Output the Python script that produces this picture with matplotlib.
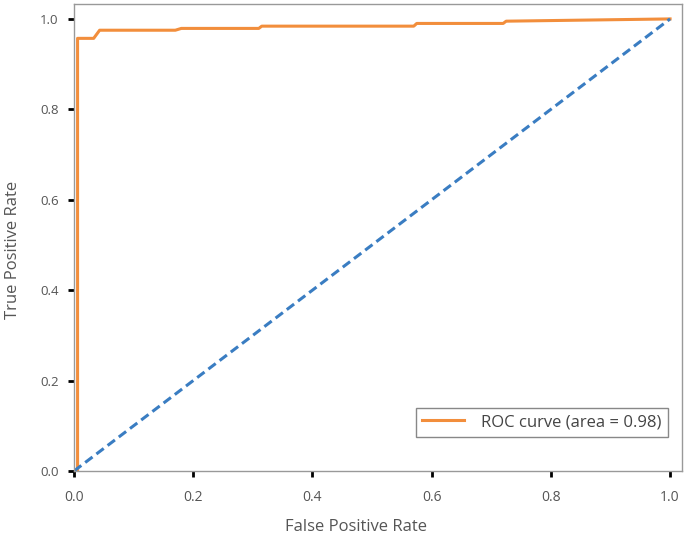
import matplotlib.pyplot as plt

plt.rcParams['font.family'] = ['Open Sans', 'DejaVu Sans']

# ROC curve points
fpr = [0.0, 0.006, 0.006, 0.033, 0.043, 0.17, 0.18, 0.31, 0.315, 0.57, 0.575, 0.72, 0.725, 1.0]
tpr = [0.0, 0.0, 0.957, 0.957, 0.975, 0.975, 0.979, 0.979, 0.984, 0.984, 0.99, 0.99, 0.995, 1.0]
roc_auc = 0.98

# chance diagonal
diag_x = [0.0, 1.0]
diag_y = [0.0, 1.0]

ticks = [0.0, 0.2, 0.4, 0.6, 0.8, 1.0]

fig = plt.figure(figsize=(6.85, 5.4), dpi=100)
ax = fig.add_axes([74 / 685, 69 / 540, 608 / 685, 467 / 540])

ax.plot(fpr, tpr, color='#f28e3c', lw=2.2, label='ROC curve (area = %0.2f)' % roc_auc)
ax.plot(diag_x, diag_y, color='#3a7dc2', lw=2.2, linestyle=(0, (3, 1.6)))

ax.set_xlim(0.0, 1.02)
ax.set_ylim(0.0, 1.033)
ax.set_xticks(ticks)
ax.set_yticks(ticks)

for s in ax.spines.values():
    s.set_color('#999999')
    s.set_linewidth(1.0)

ax.tick_params(axis='both', length=4, width=2, color='black', labelcolor='#555555')
ax.tick_params(axis='x', pad=10, labelsize=10)
ax.tick_params(axis='y', pad=7, labelsize=9.5)

ax.set_xlabel('False Positive Rate', fontsize=12, color='#555555')
ax.set_ylabel('True Positive Rate', fontsize=12, color='#555555')
ax.xaxis.set_label_coords(0.464, -0.103)
ax.yaxis.set_label_coords(-0.087, 0.473)

leg = ax.legend(loc='lower right', fontsize=12, fancybox=False, framealpha=1,
                edgecolor='#888888', borderpad=0.4, borderaxespad=0.5,
                handlelength=2.5, handletextpad=1.0,
                bbox_to_anchor=(0.99, 0.055))
for t in leg.get_texts():
    t.set_color('#444444')

plt.savefig('out.png', dpi=100)
